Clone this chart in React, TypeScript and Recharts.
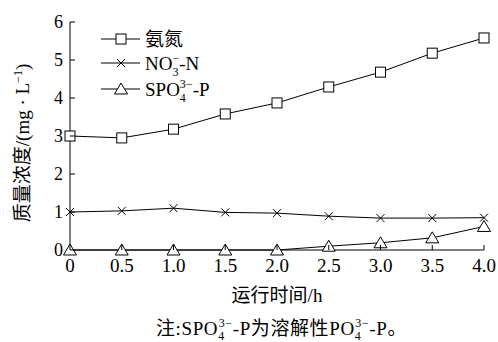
import React from 'react';
import { LineChart, Line, XAxis, YAxis } from 'recharts';

const times = [0, 0.5, 1.0, 1.5, 2.0, 2.5, 3.0, 3.5, 4.0];
const ammonia = [3.0, 2.95, 3.18, 3.58, 3.87, 4.29, 4.68, 5.18, 5.58];
const nitrate = [1.0, 1.03, 1.1, 0.99, 0.97, 0.89, 0.84, 0.84, 0.85];
const phosphate = [0, 0, 0, 0, 0, 0.1, 0.19, 0.32, 0.62];
const xTicks = [0, 0.5, 1.0, 1.5, 2.0, 2.5, 3.0, 3.5, 4.0];
const yTicks = [0, 1, 2, 3, 4, 5, 6];

const data = times.map((t, i) => ({
  t,
  ammonia: ammonia[i],
  nitrate: nitrate[i],
  phosphate: phosphate[i],
}));

const FONT = '"Liberation Serif", "Noto Sans CJK SC", serif';

const SquareDot = (p: any) => (
  <rect key={p.key ?? `s${p.index}`} x={p.cx - 5} y={p.cy - 5} width={10} height={10} fill="#fff" stroke="#000" strokeWidth={1} />
);

const CrossDot = (p: any) => (
  <path key={p.key ?? `c${p.index}`} d={`M${p.cx - 4},${p.cy - 4}L${p.cx + 4},${p.cy + 4}M${p.cx - 4},${p.cy + 4}L${p.cx + 4},${p.cy - 4}`} stroke="#000" strokeWidth={1} fill="none" />
);

const TriDot = (p: any) => (
  <path key={p.key ?? `t${p.index}`} d={`M${p.cx},${p.cy - 6}L${p.cx + 6.5},${p.cy + 5}L${p.cx - 6.5},${p.cy + 5}Z`} fill="#fff" stroke="#000" strokeWidth={1} />
);

const XTick = (p: any) => {
  const v = p.payload.value;
  return (
    <g>
      <line x1={p.x} y1={p.y} x2={p.x} y2={p.y - 5} stroke="#000" />
      <text x={p.x} y={p.y + 22} textAnchor="middle" fontSize={19} fontFamily={FONT} fill="#000">
        {v === 0 ? '0' : v.toFixed(1)}
      </text>
    </g>
  );
};

const YTick = (p: any) => (
  <g>
    <line x1={p.x} y1={p.y} x2={p.x + 5} y2={p.y} stroke="#000" />
    <text x={p.x - 7} y={p.y + 6} textAnchor="end" fontSize={18} fontFamily={FONT} fill="#000">
      {p.payload.value}
    </text>
  </g>
);

export default function App() {
  return (
    <div style={{ position: 'absolute', left: 0, top: 0, width: 498, height: 342, background: '#fff' }}>
      <LineChart width={498} height={342} data={data} margin={{ top: 22, right: 14, left: 20, bottom: 62 }}>
        <XAxis
          dataKey="t"
          type="number"
          domain={[0, 4]}
          ticks={xTicks}
          tickSize={0}
          tickMargin={0}
          tick={<XTick />}
          height={30}
          axisLine={{ stroke: '#000' }}
          tickLine={false}
        />
        <YAxis
          type="number"
          domain={[0, 6]}
          ticks={yTicks}
          tickSize={0}
          tickMargin={0}
          tick={<YTick />}
          width={50}
          axisLine={{ stroke: '#000' }}
          tickLine={false}
        />
        <Line dataKey="ammonia" stroke="#000" strokeWidth={1} dot={SquareDot} isAnimationActive={false} type="linear" />
        <Line dataKey="nitrate" stroke="#000" strokeWidth={1} dot={CrossDot} isAnimationActive={false} type="linear" />
        <Line dataKey="phosphate" stroke="#000" strokeWidth={1} dot={TriDot} isAnimationActive={false} type="linear" />
      </LineChart>
      <svg width={498} height={342} style={{ position: 'absolute', left: 0, top: 0, pointerEvents: 'none' }} fontFamily={FONT}>
        {/* legend */}
        <line x1={101} y1={39} x2={140} y2={39} stroke="#000" />
        <rect x={116} y={34} width={10} height={10} fill="#fff" stroke="#000" />
        <text x={145} y={46} fontSize={19}>氨氮</text>
        <line x1={101} y1={63} x2={140} y2={63} stroke="#000" />
        <path d="M117,59L125,67M117,67L125,59" stroke="#000" />
        <text x={145} y={70} fontSize={19}>
          NO<tspan fontSize={12} dy={6}>3</tspan>
          <tspan fontSize={12} dx={-6} dy={-14}>−</tspan>
          <tspan dy={8}>-N</tspan>
        </text>
        <line x1={101} y1={89} x2={140} y2={89} stroke="#000" />
        <path d="M121,83L127.5,94L114.5,94Z" fill="#fff" stroke="#000" />
        <text x={145} y={96} fontSize={19}>
          SPO<tspan fontSize={12} dy={6}>4</tspan>
          <tspan fontSize={12} dx={-6} dy={-14}>3−</tspan>
          <tspan dy={8}>-P</tspan>
        </text>
        {/* y label */}
        <text transform="translate(29,143) rotate(-90)" textAnchor="middle" fontSize={19}>
          质量浓度/(mg · L<tspan fontSize={12} dy={-7}>−1</tspan><tspan dy={7}>)</tspan>
        </text>
        {/* x label */}
        <text x={277} y={302} textAnchor="middle" fontSize={19}>运行时间/h</text>
        {/* note */}
        <text x={156} y={335} fontSize={19} letterSpacing={0.6}>
          注:SPO<tspan fontSize={12} dy={5}>4</tspan>
          <tspan fontSize={12} dx={-6} dy={-13}>3−</tspan>
          <tspan dy={8}>-P为溶解性PO</tspan>
          <tspan fontSize={12} dy={5}>4</tspan>
          <tspan fontSize={12} dx={-6} dy={-13}>3−</tspan>
          <tspan dy={8}>-P。</tspan>
        </text>
      </svg>
    </div>
  );
}
